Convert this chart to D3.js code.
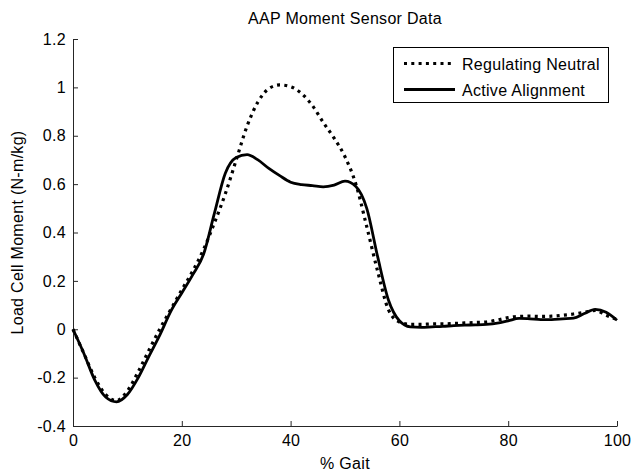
<!DOCTYPE html>
<html>
<head>
<meta charset="utf-8">
<script src="https://cdn.jsdelivr.net/npm/d3@7/dist/d3.min.js"></script>
<style>
  html, body { margin: 0; padding: 0; background: #fff; }
  svg text { font-family: "Liberation Sans", Arial, Helvetica, sans-serif; fill: #000; letter-spacing: 0.3px; }
</style>
</head>
<body>
<svg id="chart" width="644" height="473"></svg>
<script>
// Percent of gait cycle at which each moment sample is taken
const gait = d3.range(0, 101, 2);

// Load cell moment (N-m/kg), Regulating Neutral condition
const regulatingNeutral = [
  0.00, -0.10, -0.20, -0.27, -0.295, -0.255, -0.175, -0.085, 0.003, 0.083,
  0.163, 0.24, 0.33, 0.44, 0.56, 0.70, 0.84, 0.94, 0.995, 1.01,
  1.003, 0.975, 0.925, 0.855, 0.79, 0.713, 0.60, 0.424, 0.24, 0.08,
  0.03, 0.02, 0.02, 0.022, 0.022, 0.024, 0.026, 0.028, 0.03, 0.038,
  0.048, 0.053, 0.054, 0.053, 0.054, 0.058, 0.063, 0.07, 0.078, 0.058,
  0.04
];

// Load cell moment (N-m/kg), Active Alignment condition
const activeAlignment = [
  0.00, -0.10, -0.21, -0.28, -0.30, -0.27, -0.20, -0.11, -0.022, 0.075,
  0.15, 0.225, 0.31, 0.48, 0.645, 0.71, 0.722, 0.70, 0.665, 0.635,
  0.608, 0.598, 0.594, 0.589, 0.596, 0.612, 0.59, 0.50, 0.30, 0.12,
  0.035, 0.01, 0.008, 0.01, 0.012, 0.015, 0.017, 0.018, 0.02, 0.025,
  0.035, 0.045, 0.043, 0.04, 0.04, 0.043, 0.046, 0.065, 0.082, 0.07,
  0.037
];

const seriesNames = ["Regulating Neutral", "Active Alignment"];
const xTicks = [0, 20, 40, 60, 80, 100];
const yTicks = [-0.4, -0.2, 0, 0.2, 0.4, 0.6, 0.8, 1, 1.2];

const svg = d3.select("#chart");
const fontSize = 16;
const plot = { left: 73, right: 617, top: 39, bottom: 426 };

const x = d3.scaleLinear().domain([0, 100]).range([plot.left, plot.right]);
const y = d3.scaleLinear().domain([-0.4, 1.2]).range([plot.bottom, plot.top]);

const axisColor = "#262626";

// Axes with inward ticks
const xAxis = svg.append("g")
  .attr("transform", `translate(0,${plot.bottom})`)
  .call(d3.axisBottom(x).tickValues(xTicks).tickSizeInner(-5).tickSizeOuter(0)
    .tickPadding(9).tickFormat(d3.format("d")));
const yAxis = svg.append("g")
  .attr("transform", `translate(${plot.left},0)`)
  .call(d3.axisLeft(y).tickValues(yTicks).tickSizeInner(-5).tickSizeOuter(0)
    .tickPadding(7).tickFormat(d => String(+d.toFixed(1))));

[xAxis, yAxis].forEach(g => {
  g.select(".domain").attr("stroke", axisColor).attr("stroke-width", 1);
  g.selectAll(".tick line").attr("stroke", axisColor);
  g.selectAll(".tick text")
    .attr("font-size", fontSize)
    .attr("font-family", "'Liberation Sans', Arial, sans-serif")
    .attr("fill", "#000");
});

// Title and axis labels
svg.append("text")
  .attr("x", (plot.left + plot.right) / 2).attr("y", 24)
  .attr("text-anchor", "middle").attr("font-size", fontSize)
  .text("AAP Moment Sensor Data");
svg.append("text")
  .attr("x", (plot.left + plot.right) / 2).attr("y", 469)
  .attr("text-anchor", "middle").attr("font-size", fontSize)
  .text("% Gait");
svg.append("text")
  .attr("transform", `translate(23,${(plot.top + plot.bottom) / 2}) rotate(-90)`)
  .attr("text-anchor", "middle").attr("font-size", fontSize)
  .text("Load Cell Moment (N-m/kg)");

// Curves
const line = d3.line().x((d, i) => x(gait[i])).y(d => y(d)).curve(d3.curveMonotoneX);

const styles = [
  { dash: "3,4.3", width: 3.2 },
  { dash: null, width: 2.8 }
];

[regulatingNeutral, activeAlignment].forEach((vals, k) => {
  svg.append("path")
    .datum(vals)
    .attr("fill", "none")
    .attr("stroke", "#000")
    .attr("stroke-width", styles[k].width)
    .attr("stroke-dasharray", styles[k].dash)
    .attr("stroke-linejoin", "round")
    .attr("d", line);
});

// Legend
const legend = svg.append("g");
legend.append("rect")
  .attr("x", 393.5).attr("y", 47.5).attr("width", 215).attr("height", 55)
  .attr("fill", "#fff").attr("stroke", "#000").attr("stroke-width", 1);
seriesNames.forEach((name, k) => {
  const cy = 63.5 + k * 26;
  legend.append("line")
    .attr("x1", 404).attr("x2", 455).attr("y1", cy).attr("y2", cy)
    .attr("stroke", "#000")
    .attr("stroke-width", styles[k].width)
    .attr("stroke-dasharray", styles[k].dash);
  legend.append("text")
    .attr("x", 462).attr("y", cy + 6)
    .attr("font-size", fontSize)
    .text(name);
});
</script>
</body>
</html>
